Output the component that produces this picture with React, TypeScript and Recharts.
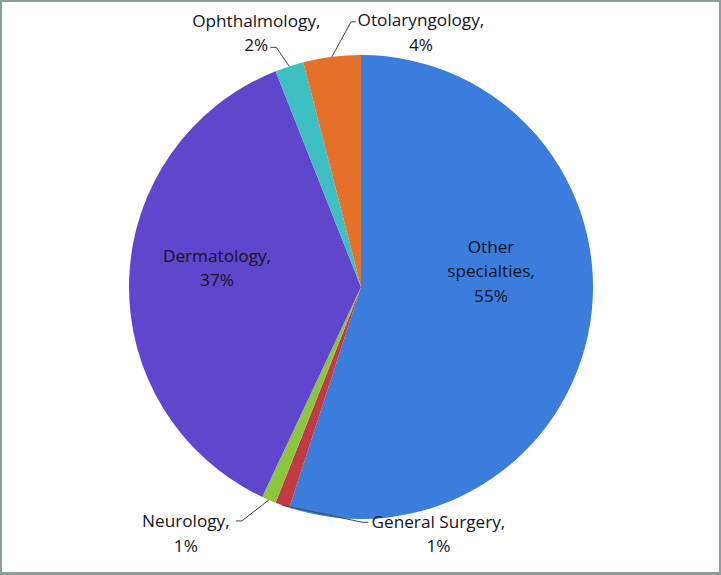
import React from "react";
import { PieChart, Pie, Cell } from "recharts";

const categories = [
  "Other specialties",
  "General Surgery",
  "Neurology",
  "Dermatology",
  "Ophthalmology",
  "Otolaryngology",
];
const shares = [55, 1, 1, 37, 2, 4];
const percentLabels = ["55%", "1%", "1%", "37%", "2%", "4%"];

const colors = ["#3A7DDC", "#C13A44", "#8CC63F", "#6045CD", "#3EC0C2", "#E4702A"];

const data = categories.map((name, i) => ({ name, value: shares[i], pct: percentLabels[i] }));

type Layout =
  | { mode: "inside"; dx: number; dy: number; lines: string[] }
  | {
      mode: "outside";
      leader: [number, number][];
      tx: number;
      ty: number;
      lines: string[];
    };

const layouts: Record<string, Layout> = {
  "Other specialties": { mode: "inside", dx: 130, dy: -41, lines: ["Other", "specialties,"] },
  Dermatology: { mode: "inside", dx: -144, dy: -32, lines: ["Dermatology,"] },
  Ophthalmology: { mode: "outside", leader: [[-13, -19], [-19, -19]], tx: -33, ty: -46, lines: ["Ophthalmology,"] },
  Otolaryngology: { mode: "outside", leader: [[19, -35], [24, -35]], tx: 89, ty: -37, lines: ["Otolaryngology,"] },
  "General Surgery": { mode: "outside", leader: [[80, 17], [86, 17]], tx: 156, ty: 16, lines: ["General Surgery,"] },
  Neurology: { mode: "outside", leader: [[-27, 21], [-33, 21]], tx: -83, ty: 21, lines: ["Neurology,"] },
};

const RAD = Math.PI / 180;
const LINE = 24.5;
const textStyle = { fontFamily: "'Open Sans', Lato, sans-serif", fontSize: 17.2, fill: "#13131d" };

const renderLabel = (props: any) => {
  const { cx, cy, midAngle, outerRadius, payload, name } = props;
  const key = (payload && payload.name) || name;
  const lay = layouts[key];
  if (!lay) return null;
  const pct = (payload && payload.pct) || "";
  const all = [...lay.lines, pct];
  if (lay.mode === "inside") {
    const x = cx + lay.dx;
    const y0 = cy + lay.dy;
    return (
      <g>
        {all.map((t, i) => (
          <text key={i} x={x} y={y0 + i * LINE} textAnchor="middle" dominantBaseline="central" style={textStyle}>
            {t}
          </text>
        ))}
      </g>
    );
  }
  const ex = cx + outerRadius * Math.cos(-midAngle * RAD);
  const ey = cy + outerRadius * Math.sin(-midAngle * RAD);
  const pts = [[ex, ey], ...lay.leader.map(([dx, dy]) => [ex + dx, ey + dy])];
  return (
    <g>
      <polyline points={pts.map((p) => p.join(",")).join(" ")} fill="none" stroke="#444" strokeWidth={1} />
      {all.map((t, i) => (
        <text
          key={i}
          x={ex + lay.tx}
          y={ey + lay.ty + i * LINE}
          textAnchor="middle"
          dominantBaseline="central"
          style={textStyle}
        >
          {t}
        </text>
      ))}
    </g>
  );
};

export default function App() {
  return (
    <div style={{ position: "absolute", left: 0, top: 0, width: 721, height: 575, background: "#fff" }}>
      <PieChart width={721} height={575} margin={{ top: 0, right: 0, bottom: 0, left: 0 }}>
        <Pie
          data={data}
          dataKey="value"
          nameKey="name"
          cx={361}
          cy={287}
          outerRadius={232}
          startAngle={90}
          endAngle={-270}
          stroke="none"
          label={renderLabel}
          labelLine={false}
          isAnimationActive={false}
        >
          {data.map((d, i) => (
            <Cell key={d.name} fill={colors[i]} />
          ))}
        </Pie>
      </PieChart>
      <div
        style={{
          position: "absolute",
          left: 0,
          top: 0,
          width: 721,
          height: 575,
          boxSizing: "border-box",
          border: "2px solid #8E9E9C",
          borderBottomWidth: 3,
          pointerEvents: "none",
        }}
      />
    </div>
  );
}
